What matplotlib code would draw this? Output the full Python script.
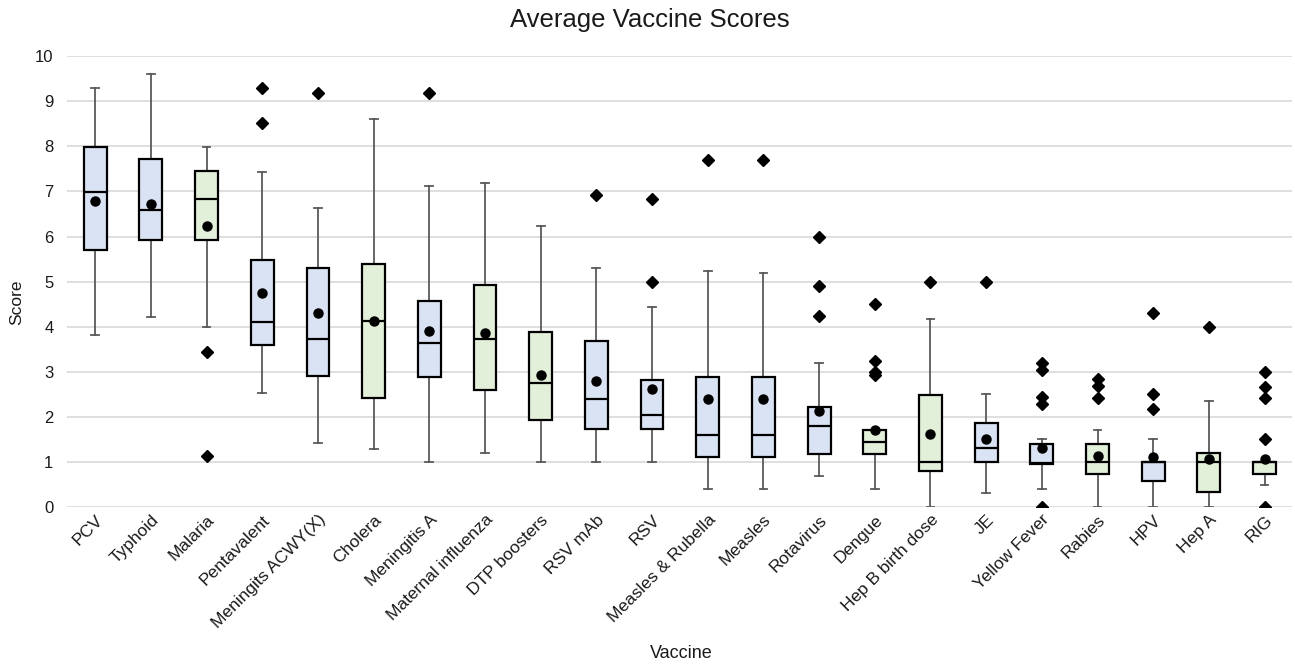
import matplotlib
matplotlib.use("Agg")
import matplotlib.pyplot as plt

vaccines = [
    "PCV", "Typhoid", "Malaria", "Pentavalent", "Meningits ACWY(X)", "Cholera",
    "Meningitis A", "Maternal influenza", "DTP boosters", "RSV mAb", "RSV",
    "Measles & Rubella", "Measles", "Rotavirus", "Dengue", "Hep B birth dose",
    "JE", "Yellow Fever", "Rabies", "HPV", "Hep A", "RIG",
]
whisker_low = [3.81, 4.21, 4.0, 2.52, 1.41, 1.29, 1.0, 1.2, 1.0, 1.0, 1.0,
               0.4, 0.4, 0.69, 0.4, 0.0, 0.3, 0.4, 0.0, 0.0, 0.0, 0.47]
q1 = [5.71, 5.93, 5.92, 3.59, 2.90, 2.42, 2.88, 2.58, 1.93, 1.73, 1.73,
      1.10, 1.10, 1.16, 1.16, 0.79, 0.99, 0.95, 0.72, 0.57, 0.32, 0.72]
medians = [6.99, 6.59, 6.83, 4.10, 3.73, 4.13, 3.64, 3.73, 2.74, 2.39, 2.04,
           1.6, 1.6, 1.79, 1.44, 1.0, 1.30, 0.98, 1.0, 1.0, 1.0, 1.0]
q3 = [7.99, 7.72, 7.45, 5.48, 5.31, 5.39, 4.57, 4.93, 3.89, 3.67, 2.81,
      2.87, 2.87, 2.21, 1.70, 2.47, 1.86, 1.4, 1.4, 1.0, 1.2, 1.0]
whisker_high = [9.29, 9.6, 7.99, 7.43, 6.63, 8.6, 7.13, 7.19, 6.23, 5.31, 4.44,
                5.24, 5.19, 3.2, 1.70, 4.16, 2.5, 1.5, 1.70, 1.5, 2.34, 1.0]
means = [6.79, 6.72, 6.23, 4.75, 4.31, 4.13, 3.9, 3.85, 2.92, 2.78, 2.61,
         2.38, 2.38, 2.13, 1.70, 1.61, 1.50, 1.30, 1.12, 1.10, 1.05, 1.05]
outliers = [
    [], [], [3.44, 1.13], [9.29, 8.53], [9.19], [], [9.19], [], [], [6.93],
    [6.83, 4.99], [7.69], [7.69], [5.99, 4.89, 4.24], [4.49, 3.24, 2.98, 2.93],
    [4.99], [4.99], [3.18, 3.04, 2.44, 2.28, 0.0], [2.84, 2.67, 2.41],
    [4.31, 2.5, 2.17], [4.0], [3.0, 2.66, 2.41, 1.5, 0.0],
]
# b = blue, g = green
box_colours = ["b", "b", "g", "b", "b", "g", "b", "g", "g", "b", "b",
               "b", "b", "b", "g", "g", "b", "b", "g", "b", "g", "g"]

BLUE = "#dae3f3"
GREEN = "#e2f0d9"
FONT = ["Liberation Sans", "DejaVu Sans"]
plt.rcParams["font.family"] = FONT

stats = []
for i, name in enumerate(vaccines):
    stats.append({
        "label": name,
        "whislo": whisker_low[i],
        "q1": q1[i],
        "med": medians[i],
        "q3": q3[i],
        "whishi": whisker_high[i],
        "mean": means[i],
        "fliers": outliers[i],
    })

fig = plt.figure(figsize=(12.95, 6.64), dpi=100)
ax = fig.add_axes([0.052, 0.237, 0.946, 0.678])

bp = ax.bxp(
    stats,
    positions=range(len(vaccines)),
    widths=0.41,
    patch_artist=True,
    showmeans=True,
    showfliers=True,
    capwidths=0.14,
    boxprops=dict(edgecolor="black", linewidth=1.6),
    medianprops=dict(color="black", linewidth=1.6),
    whiskerprops=dict(color="#595959", linewidth=1.3),
    capprops=dict(color="#595959", linewidth=1.3),
    meanprops=dict(marker="o", markerfacecolor="black", markeredgecolor="black",
                   markersize=6.5),
    flierprops=dict(marker="D", markerfacecolor="black", markeredgecolor="black",
                    markersize=6.5),
)
for patch, c in zip(bp["boxes"], box_colours):
    patch.set_facecolor(BLUE if c == "b" else GREEN)
for w in bp["whiskers"] + bp["caps"]:
    w.set_zorder(1.5)
for b in bp["boxes"]:
    b.set_zorder(2)
for m in bp["medians"]:
    m.set_zorder(2.5)

ax.set_xlim(-0.5, len(vaccines) - 0.5)
ax.set_ylim(0, 10)
ax.set_yticks(range(0, 11))
ax.yaxis.grid(True, color="#d9d9d9", linewidth=1.2)
ax.set_axisbelow(True)
for s in ax.spines.values():
    s.set_visible(False)
ax.tick_params(axis="y", length=0, labelsize=12, colors="#1a1a1a", pad=10)
ax.tick_params(axis="x", length=0, labelsize=12.5, colors="#1a1a1a", pad=4)
ax.set_xticks(range(len(vaccines)))
ax.set_xticklabels(vaccines, rotation=45, ha="right", rotation_mode="anchor")

fig.text(17 / 1295, 1 - 302 / 664, "Score", rotation=90, ha="center",
         va="center", fontsize=12.5, color="#1a1a1a")
fig.text(681 / 1295, 1 - 653 / 664, "Vaccine", ha="center", va="center",
         fontsize=13, color="#1a1a1a")
fig.text(650 / 1295, 1 - 20 / 664, "Average Vaccine Scores", ha="center",
         va="center", fontsize=18.5, color="#1a1a1a")

fig.savefig("out.png", dpi=100)
